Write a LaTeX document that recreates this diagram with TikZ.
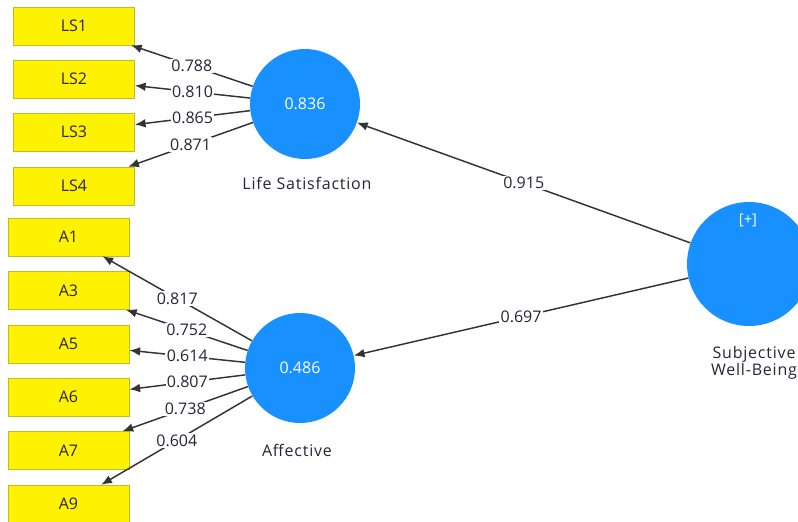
\documentclass[tikz,border=0pt]{standalone}
\usepackage{fontspec}
\setmainfont{Open Sans}
\newfontfamily\namefont[LetterSpace=5]{Open Sans}
\usetikzlibrary{arrows.meta}

\definecolor{semblue}{RGB}{24,144,255}
\definecolor{itemline}{RGB}{190,190,40}
\definecolor{labtext}{RGB}{40,36,55}

\begin{document}
\begin{tikzpicture}[x=0.75pt,y=-0.75pt,
  item/.style={draw=itemline, fill=yellow, minimum width=91pt, minimum height=28.5pt, inner sep=0pt, text=labtext, font=\fontsize{12}{14}\selectfont},
  latent/.style={circle, fill=semblue, minimum size=82.5pt, inner sep=0pt, text=white, font=\fontsize{12}{14}\selectfont},
  link/.style={draw=black!80, line width=1.1pt, -{Latex[length=8pt,width=6.5pt]}},
  coef/.style={fill=white, inner sep=1pt, text=labtext, font=\fontsize{12}{14}\selectfont},
  conname/.style={text=labtext, font=\namefont\fontsize{12}{14}\selectfont}]
\clip (0,0) rectangle (798,521);
\useasboundingbox (0,0) rectangle (798,521);
% indicators
\node[item] (LS1) at (74,26) {LS1};
\node[item] (LS2) at (74,79) {LS2};
\node[item] (LS3) at (74,132) {LS3};
\node[item] (LS4) at (74,186) {LS4};
\node[item] (A1) at (68.5,237) {A1};
\node[item] (A3) at (68.5,290.5) {A3};
\node[item] (A5) at (68.5,344) {A5};
\node[item] (A6) at (68.5,397) {A6};
\node[item] (A7) at (68.5,450.5) {A7};
\node[item] (A9) at (68.5,504) {A9};
% constructs
\node[latent] (LS) at (305,104) {0.836};
\node[latent] (AF) at (300,368) {0.486};
\node[latent, minimum size=93pt] (SWB) at (749,264) {};
\node[text=white, font=\fontsize{11}{12}\selectfont] (plus) at (748,220) {[+]};
\node[conname] (LSname) at (307,183) {Life Satisfaction};
\node[conname] (AFname) at (297,450) {Affective};
\node[conname, align=center] (SWBname) at (754,363) {Subjective\\[-1pt]Well-Being};
% structural paths
\draw[link] (SWB) -- node[coef] {0.915} (LS);
\draw[link] (SWB) -- node[coef] {0.697} (AF);
% loadings
\draw[link] (LS) -- node[coef] {0.788} (LS1);
\draw[link] (LS) -- node[coef] {0.810} (LS2);
\draw[link] (LS) -- node[coef] {0.865} (LS3);
\draw[link] (LS) -- node[coef] {0.871} (LS4);
\draw[link] (AF) -- node[coef] {0.817} (A1);
\draw[link] (AF) -- node[coef] {0.752} (A3);
\draw[link] (AF) -- node[coef] {0.614} (A5);
\draw[link] (AF) -- node[coef] {0.807} (A6);
\draw[link] (AF) -- node[coef] {0.738} (A7);
\draw[link] (AF) -- node[coef] {0.604} (A9);
\end{tikzpicture}
\end{document}
